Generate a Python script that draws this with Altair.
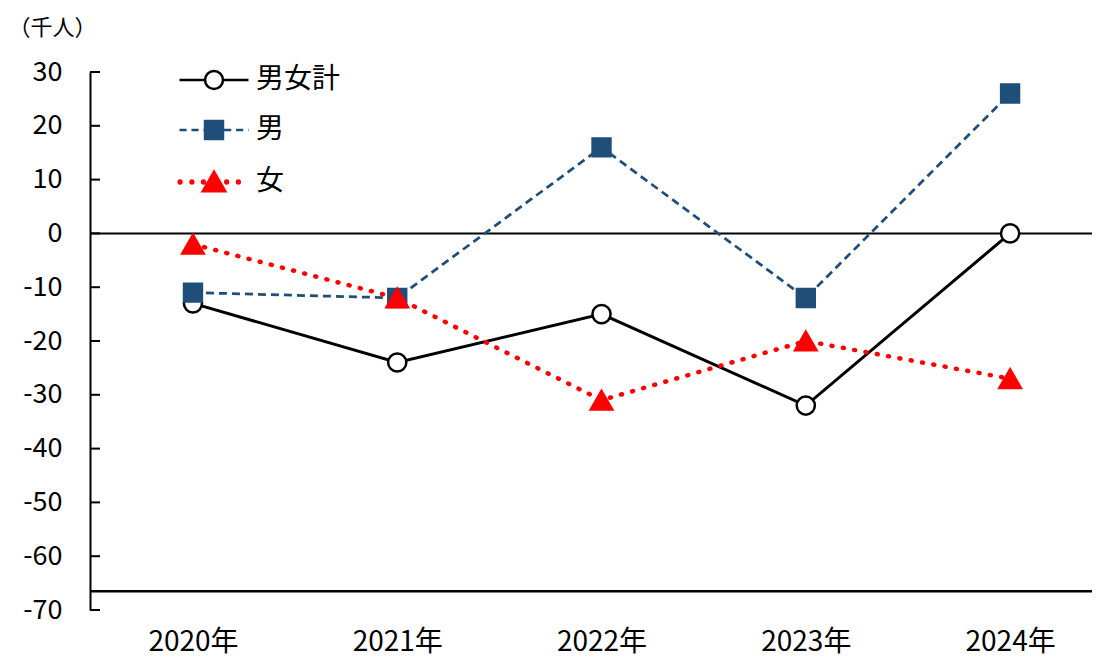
import altair as alt
import pandas as pd

years = [2020, 2021, 2022, 2023, 2024]
series_names = ["男女計", "男", "女"]
total = [-13, -24, -15, -32, 0]
male = [-11, -12, 16, -12, 26]
female = [-2, -12, -31, -20, -27]
y_ticks = [-70, -60, -50, -40, -30, -20, -10, 0, 10, 20, 30]
base_line = [-66.5]
zero_line = [0]

line_colors = ["#000000", "#1F4E79", "#FF0000"]
fill_colors = ["#FFFFFF", "#1F4E79", "#FF0000"]
FONT = "Noto Sans CJK JP"

rows = []
for name, vals in zip(series_names, [total, male, female]):
    for yr, v in zip(years, vals):
        rows.append({"year": yr, "series": name, "value": v})
df = pd.DataFrame(rows)


# ---- legend symbol paths (unit = sqrt(symbolSize)/2 px) ----
def seg(a, b):
    return f"M{a:.3f},0H{b:.3f}"


def dot(cx, r):
    return (f"M{cx - r:.3f},0A{r},{r} 0 1,0 {cx + r:.3f},0"
            f"A{r},{r} 0 1,0 {cx - r:.3f},0Z")


m = 0.78
sym_total = seg(-3, -m) + seg(m, 3) + dot(0, m)
dash_l, gap_l = 0.62, 0.42
male_parts = []
xx = -3.0
while xx < -m - 0.05:
    male_parts.append(seg(xx, min(xx + dash_l, -m)))
    xx += dash_l + gap_l
xx = m + 0.1
while xx < 3:
    male_parts.append(seg(xx, min(xx + dash_l, 3)))
    xx += dash_l + gap_l
sym_male = "".join(male_parts) + f"M{-m},{-m}H{m}V{m}H{-m}Z"
sym_female = ("".join(dot(c, 0.12) for c in [-2.95, -1.92, -0.92, 1.1, 2.12])
              + "M0,-0.9L0.98,0.8L-0.98,0.8Z")
legend_shapes = [sym_total, sym_male, sym_female]

W, H = 1002, 538

x_enc = alt.X(
    "year:Q",
    scale=alt.Scale(domain=[2019.496, 2024.401], nice=False, zero=False),
    axis=alt.Axis(values=years, labelExpr="datum.value + '年'", ticks=False, domain=False,
                  grid=False, labelFontSize=28, labelPadding=18, labelFlush=False,
                  labelColor="#000000", title=None),
)
y_scale = alt.Scale(domain=[-70, 30], nice=False, zero=False)
y_enc = alt.Y(
    "value:Q",
    scale=y_scale,
    axis=alt.Axis(values=y_ticks, labelExpr="datum.value + ''", ticks=False, grid=False,
                  domainColor="#000000", domainWidth=2, labelFontSize=27, labelPadding=28,
                  labelColor="#000000",
                  title="（千人）", titleAngle=0, titleX=-38, titleY=-45, titleAlign="center",
                  titleBaseline="middle", titleFontSize=22, titleFontWeight="normal",
                  titleColor="#000000"),
)

legend = alt.Legend(
    title=None, orient="none", legendX=110, legendY=-6, symbolSize=529,
    symbolStrokeWidth=2.5, labelFontSize=28, labelOffset=28, labelColor="#000000",
    rowPadding=22, padding=0, labelFont=FONT, symbolOpacity=1,
)

tick_df = pd.DataFrame({"value": y_ticks})
ticks = alt.Chart(tick_df).mark_rule(color="#000000", strokeWidth=2).encode(
    y=alt.Y("value:Q", scale=y_scale), x=alt.value(0), x2=alt.value(10)
)
zero = alt.Chart(pd.DataFrame({"value": zero_line})).mark_rule(color="#000000", strokeWidth=2).encode(
    y=alt.Y("value:Q", scale=y_scale)
)
bottom = alt.Chart(pd.DataFrame({"value": base_line})).mark_rule(color="#000000", strokeWidth=2.5).encode(
    y=alt.Y("value:Q", scale=y_scale)
)

line_props = {
    "男女計": dict(color="#000000", strokeWidth=3, strokeCap="butt"),
    "男": dict(color="#1F4E79", strokeWidth=2.75, strokeCap="butt", strokeDash=[8, 5]),
    "女": dict(color="#FF0000", strokeWidth=4.5, strokeCap="round", strokeDash=[1, 10.5]),
}
point_props = {
    "男女計": dict(shape="circle", fill="#FFFFFF", stroke="#000000", size=330),
    "男": dict(shape="square", fill="#1F4E79", stroke="#1F4E79", size=320),
    "女": dict(shape="triangle-up", fill="#FF0000", stroke="#FF0000", size=460),
}

lines = []
points = []
for name in series_names:
    lines.append(
        alt.Chart(df).transform_filter(alt.datum.series == name)
        .mark_line(**line_props[name])
        .encode(x=x_enc, y=y_enc)
    )
    points.append(
        alt.Chart(df).transform_filter(alt.datum.series == name)
        .mark_point(filled=True, opacity=1, strokeWidth=2.5, **point_props[name])
        .encode(x=x_enc, y=y_enc)
    )

legend_layer = (
    alt.Chart(df).transform_filter("false")
    .mark_point(filled=True, opacity=1, strokeWidth=2.5)
    .encode(
        x=x_enc, y=y_enc,
        shape=alt.Shape("series:N", scale=alt.Scale(domain=series_names, range=legend_shapes), legend=legend),
        fill=alt.Fill("series:N", scale=alt.Scale(domain=series_names, range=fill_colors), legend=legend),
        stroke=alt.Stroke("series:N", scale=alt.Scale(domain=series_names, range=line_colors), legend=legend),
    )
)

chart = alt.layer(ticks, zero, bottom, *lines, *points, legend_layer).properties(
    width=W, height=H,
    autosize=alt.AutoSizeParams(type="none"),
    padding={"left": 82, "top": 64, "right": 0, "bottom": 48},
).configure(font=FONT).configure_view(stroke=None)

chart.save("out.html", embed_options={"renderer": "svg", "actions": False})
